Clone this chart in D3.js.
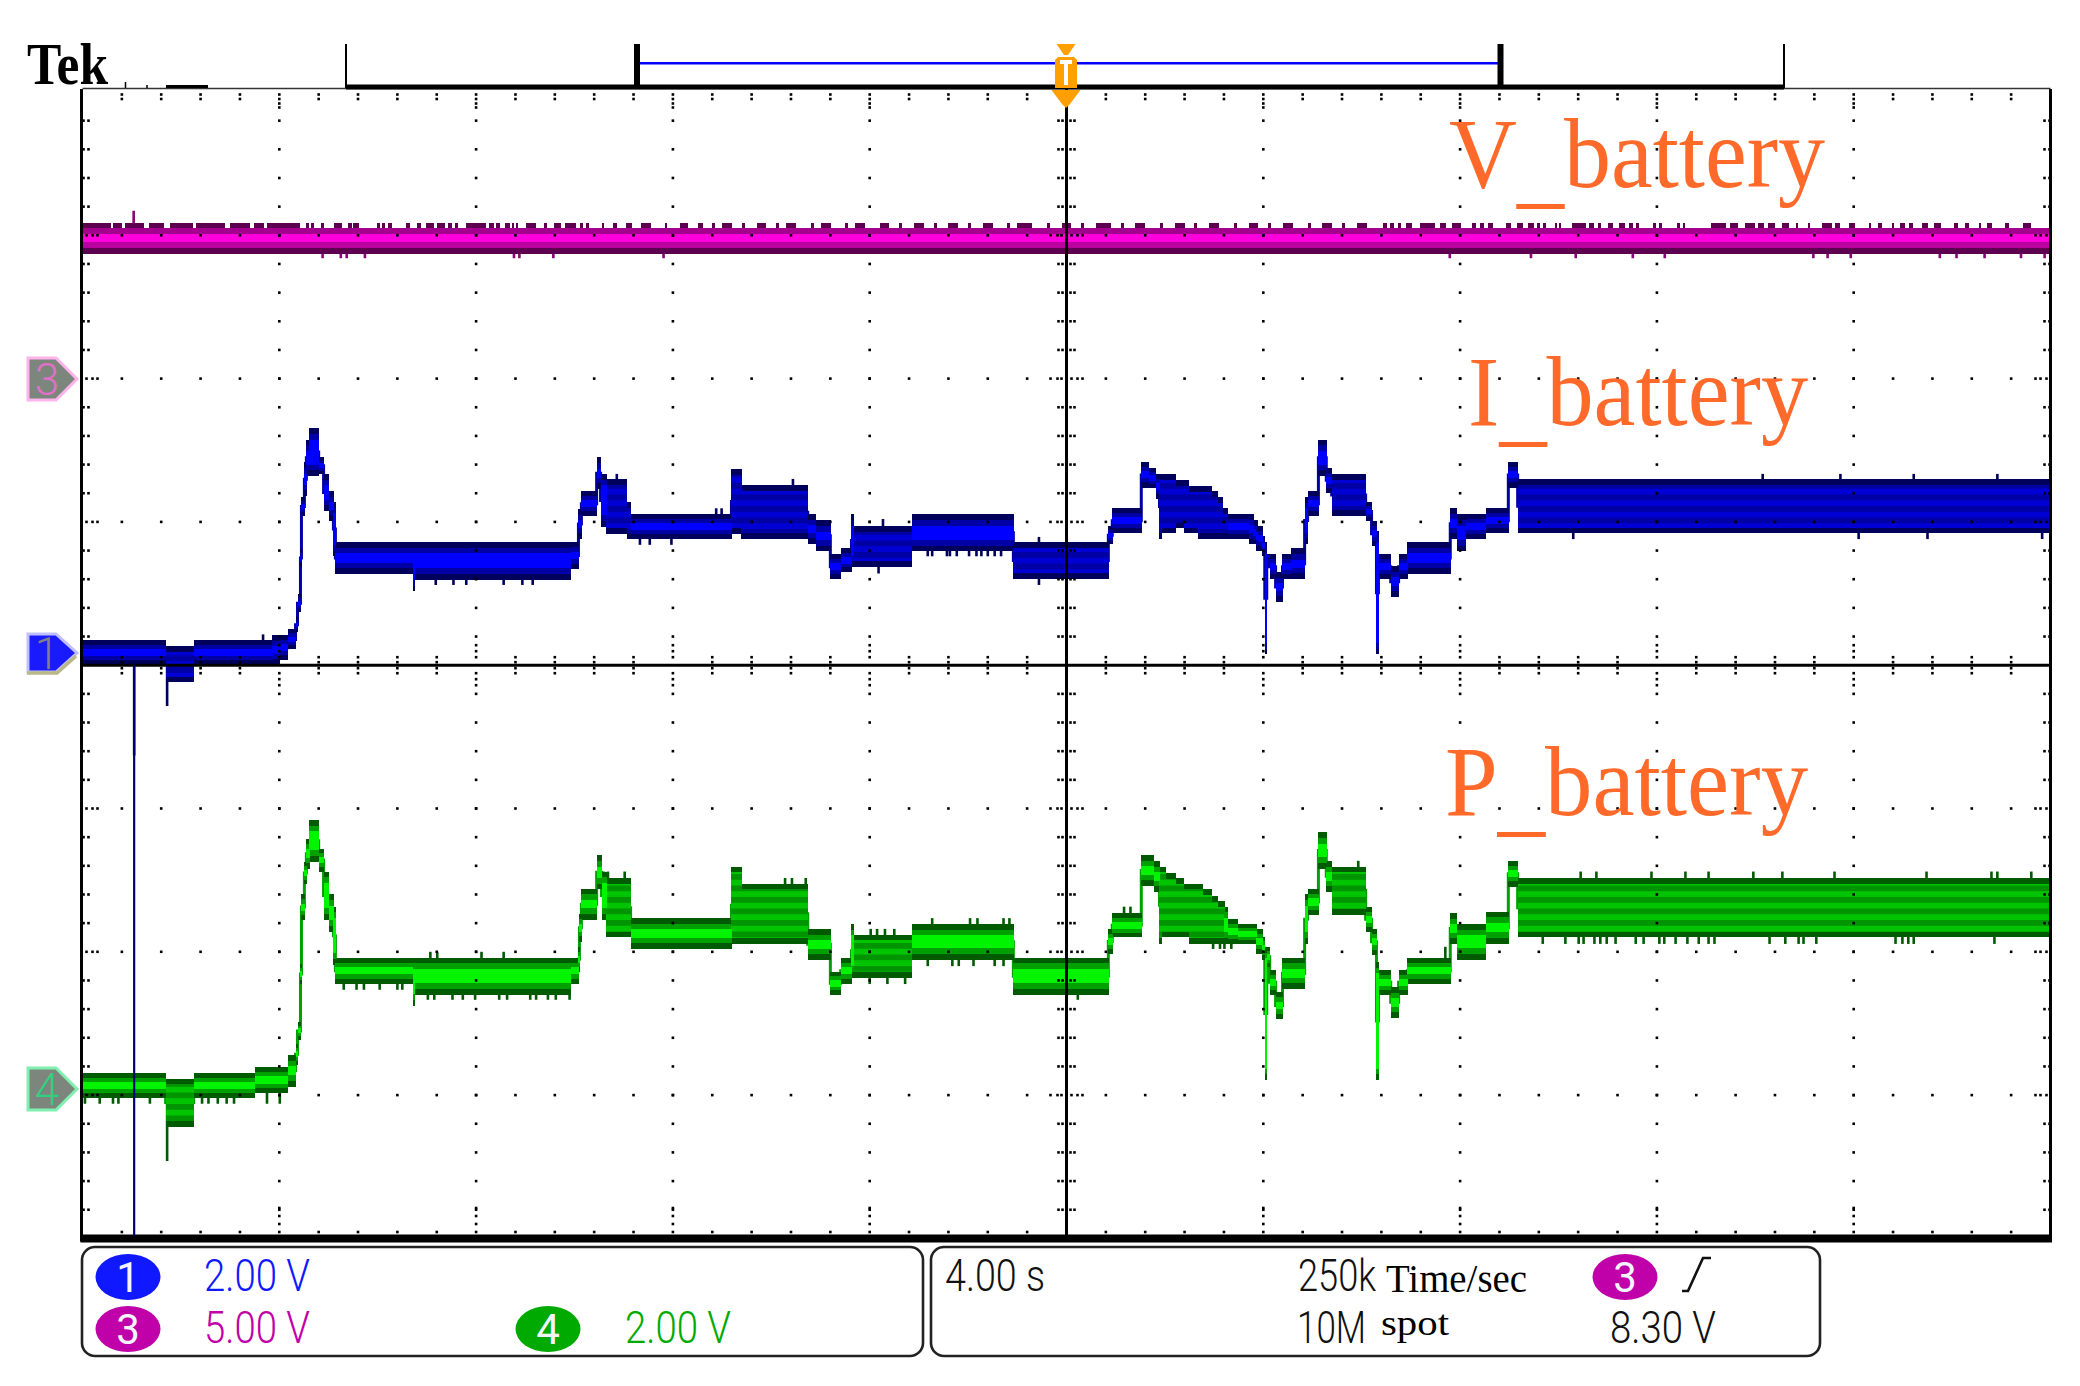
<!DOCTYPE html>
<html>
<head>
<meta charset="utf-8">
<script src="https://cdn.jsdelivr.net/npm/d3@7"></script>
<style>
html, body { margin: 0; padding: 0; background: #fff; }
svg { display: block; }
</style>
</head>
<body>
<div id="wrapper"></div>
<script>
// envelope rows: [time s, high V, low V, core] - core 1 = bright centre, 0 = striped
var ch1Rows = [
  [0,.21,-.13,1],[1.69,.13,-.38,0],[2.26,.21,-.13,1],[3.86,.28,-.13,1],[4.00,.28,-.07,1],[4.17,.36,.08,1],
  [4.33,.53,.32,1],[4.37,.85,.60,1],[4.43,1.48,1.23,1],[4.45,2.21,1.94,1],[4.51,2.69,2.22,1],[4.55,3.01,2.50,1],
  [4.61,3.17,2.50,1],[4.80,2.76,2.53,1],[4.90,2.53,2.01,1],[5.00,2.29,1.87,1],[5.10,2.14,1.38,1],[5.14,1.58,1.13,1],
  [6.71,1.58,.89,1],[6.76,1.58,1.05,1],[9.92,1.58,1.20,1],[10.08,2.04,1.62,1],[10.14,2.29,1.94,1],[10.45,2.76,2.32,1],
  [10.53,2.53,1.79,1],[10.65,2.46,1.69,0],[11.06,2.14,1.62,0],[11.14,1.97,1.62,1],[13.19,2.60,1.69,0],[13.39,2.37,1.62,0],
  [14.74,1.97,1.55,1],[14.90,1.88,1.45,1],[15.20,1.41,1.06,1],[15.41,1.49,1.16,1],[15.63,1.97,1.23,1],[15.67,1.80,1.23,0],
  [16.85,1.97,1.45,1],[18.92,1.58,1.06,0],[20.85,1.80,1.55,1],[20.93,2.05,1.70,1],[21.52,2.69,2.34,1],[21.67,2.61,2.34,1],
  [21.81,2.53,2.18,1],[21.89,2.53,1.62,0],[21.93,2.53,1.70,0],[22.21,2.44,1.77,0],[22.39,2.44,1.70,0],[22.48,2.36,1.70,0],
  [22.67,2.36,1.62,0],[22.94,2.29,1.62,0],[23.07,2.21,1.62,0],[23.17,2.05,1.62,0],[23.28,1.97,1.62,1],[23.71,1.97,1.55,1],
  [23.80,1.88,1.55,1],[23.85,1.88,1.45,1],[23.89,1.80,1.45,1],[23.98,1.66,1.38,1],[24.03,1.58,.01,1],[24.07,1.41,1.34,1],
  [24.13,1.41,1.06,1],[24.25,1.16,.74,1],[24.39,1.41,1.06,1],[24.57,1.49,1.06,1],[24.84,2.21,1.55,1],[24.90,2.29,1.94,1],
  [25.12,3.01,2.50,1],[25.28,2.61,2.27,1],[25.39,2.53,1.94,0],[26.08,2.14,1.87,1],[26.20,1.87,1.52,1],[26.30,1.73,.01,1],
  [26.34,1.41,1.06,1],[26.59,1.24,.81,1],[26.75,1.41,1.06,1],[26.93,1.58,1.13,1],[27.80,2.05,1.62,1],[27.93,1.97,1.45,1],
  [28.11,1.97,1.62,1],[28.52,2.05,1.70,1],[28.98,2.69,2.34,1],[29.17,2.46,1.70,0],[40,2.46,1.70,0]
];
var ch4Rows = [
  [0,.25,-.10,1],[1.69,.17,-.50,0],[2.26,.25,-.10,1],[3.50,.33,-.03,1],[4.17,.50,.06,1],[4.33,.66,.36,1],
  [4.37,.96,.71,1],[4.43,1.77,1.49,1],[4.45,2.74,2.39,1],[4.51,3.20,2.88,1],[4.55,3.52,3.10,1],[4.61,3.78,3.20,1],
  [4.80,3.38,3.06,1],[4.90,3.06,2.39,1],[5.00,2.74,2.22,1],[5.10,2.57,1.76,1],[5.14,1.86,1.49,1],[6.71,1.86,1.19,1],
  [6.76,1.86,1.34,1],[9.92,1.86,1.49,1],[10.08,2.01,1.66,1],[10.10,2.47,2.08,1],[10.14,2.82,2.39,1],[10.45,3.29,2.81,1],
  [10.55,3.06,2.39,1],[10.65,2.97,2.14,0],[11.14,2.41,1.98,1],[13.19,3.13,2.05,0],[13.39,2.89,2.05,0],[14.74,2.26,1.83,1],
  [15.20,1.66,1.34,1],[15.41,1.86,1.49,1],[15.63,2.33,1.58,1],[15.67,2.18,1.58,0],[16.85,2.33,1.83,1],[18.92,1.86,1.34,1],
  [20.85,2.26,1.91,1],[20.93,2.48,2.14,1],[21.52,3.29,2.86,1],[21.77,3.21,2.78,1],[21.89,3.13,2.05,0],[21.93,3.13,2.14,0],
  [22.01,3.04,2.14,0],[22.21,2.97,2.14,0],[22.39,2.89,2.14,0],[22.48,2.89,2.05,0],[22.76,2.81,2.05,0],[22.94,2.72,2.05,0],
  [23.07,2.65,2.05,0],[23.21,2.57,2.05,1],[23.28,2.40,2.05,1],[23.48,2.33,2.05,1],[23.86,2.26,1.91,1],[23.98,2.15,1.83,1],
  [24.03,2.01,.15,1],[24.07,2.01,1.73,1],[24.13,1.69,1.34,1],[24.25,1.38,1.00,1],[24.39,1.86,1.42,1],[24.84,2.74,2.05,1],
  [24.90,2.81,2.46,1],[25.12,3.61,3.10,1],[25.28,3.21,2.78,1],[25.39,3.13,2.46,0],[26.08,2.57,2.22,1],[26.20,2.26,1.90,1],
  [26.30,1.80,.15,1],[26.34,1.69,1.34,1],[26.59,1.45,1.02,1],[26.75,1.69,1.34,1],[26.93,1.86,1.49,1],[27.80,2.48,2.05,1],
  [27.93,2.33,1.83,1],[28.52,2.50,2.05,1],[28.98,3.21,2.85,1],[29.17,2.97,2.14,0],[40,2.97,2.14,0]
];
// ch3 is flat: level edges in V, top to bottom
var ch3Levels = [5.27, 5.06, 4.75, 4.57, 4.36];

// thin noise spikes: [time s, tip V]
var ch1Spikes = [
  [1.05,-1.4],[1.72,-.71],[3.67,.29],[7.18,.98],[7.54,.98],[7.80,.98],[8.56,.98],[8.94,.98],[9.15,.98],[10.86,2.53],
  [11.33,1.54],[11.53,1.54],[11.97,1.54],[12.88,2.05],[12.99,2.05],[14.44,2.46],[16.18,1.14],[16.27,1.90],[17.18,1.38],
  [17.27,1.38],[17.57,1.38],[17.63,1.38],[17.77,1.38],[18.02,1.38],[18.17,1.38],[18.27,1.38],[18.40,1.38],[18.54,1.38],
  [18.67,1.38],[19.44,.98],[19.44,1.65],[34.15,2.53],[35.73,2.53],[37.22,2.53],[38.92,2.53],[30.30,1.62],[36.10,1.62],
  [37.50,1.62],[39.83,1.62]
];
var ch4Spikes = [
  [1.72,-.98],[.05,-.18],[.35,-.18],[.62,-.18],[.73,-.18],[1.37,-.18],[2.43,-.18],[2.56,-.18],[2.75,-.18],[2.93,-.18],[3.08,-.18],
  [3.75,-.18],[4.01,-.18],[5.31,1.41],[5.57,1.41],[5.72,1.41],[6.04,1.41],[6.40,1.41],[6.50,1.41],[7.02,1.27],[7.15,1.27],
  [7.52,1.27],[7.73,1.27],[7.98,1.27],[8.47,1.27],[8.63,1.27],[9.10,1.27],[9.22,1.27],[9.46,1.27],[9.62,1.27],[9.90,1.27],
  [7.07,1.94],[7.21,1.94],[8.11,1.94],[8.56,1.94],[10.60,3.06],[10.68,3.06],[11.02,3.06],[14.28,2.97],[14.42,2.97],[14.70,2.97],
  [16.02,2.26],[16.15,2.26],[16.31,2.26],[16.50,2.26],[17.27,2.41],[18.04,2.41],[18.19,2.41],[18.72,2.41],[18.84,2.41],
  [21.17,2.57],[21.30,2.57],[25.93,3.21],[27.70,2.01],[16.00,1.49],[16.36,1.49],[16.72,1.49],[17.18,1.74],[17.68,1.74],
  [17.81,1.74],[18.11,1.74],[18.54,1.74],[18.72,1.74],[22.98,1.98],[23.12,1.98],[23.21,1.98],[23.35,1.98],[20.23,1.27],
  [30.45,3.06],[30.77,3.06],[31.89,3.06],[32.58,3.06],[33.05,3.06],[33.96,3.06],[34.55,3.06],[35.61,3.06],[37.48,3.06],
  [38.80,3.06],[38.92,3.06],[39.61,3.06],[29.68,2.05],[30.14,2.05],[30.41,2.05],[30.51,2.05],[30.73,2.05],[30.85,2.05],
  [30.98,2.05],[31.16,2.05],[31.57,2.05],[31.73,2.05],[32.05,2.05],[32.15,2.05],[32.38,2.05],[32.62,2.05],[32.85,2.05],
  [33.05,2.05],[33.17,2.05],[34.29,2.05],[34.61,2.05],[34.88,2.05],[34.98,2.05],[35.24,2.05],[36.85,2.05],[36.99,2.05],
  [37.11,2.05],[37.22,2.05],[38.86,2.05]
];
var ch3Spikes = [
  [1.04,5.86],[4.88,4.2],[5.25,4.2],[5.37,4.2],[5.74,4.2],[8.77,4.2],[8.88,4.2],[9.57,4.2],[11.81,4.2],[27.79,4.2],[29.44,4.2],
  [30.35,4.2],[31.51,4.2],[32.16,4.2],[35.18,4.2],[35.47,4.2],[35.94,4.2],[37.75,4.2],[38.09,4.2],[38.66,4.2],[39.40,4.2],[39.88,4.2]
];
// dark noise blocks on top of the ch3 band: [from s, to s]
var ch3Blocks = [
  [0,.58],[.62,.80],[.87,1.24],[1.35,1.66],[1.78,2.24],[2.31,2.89],[3.00,3.41],[3.48,3.69],[3.75,4.43],[4.54,4.60],[4.64,4.70],
  [4.85,4.91],[5.12,5.28],[5.39,5.48],[5.50,5.61],[5.98,6.04],[6.09,6.15],[6.21,6.30],[6.57,6.66],[6.79,6.88],[6.99,7.15],
  [7.21,7.37],[7.43,7.50],[7.57,7.64],[7.79,8.21],[8.27,8.36],[8.40,8.48],[8.59,8.68],[8.72,8.77],[8.81,8.86],[9.02,9.22],
  [9.38,9.45],[9.58,9.72],[9.81,10.03],[10.11,10.17],[10.24,10.30],[10.56,10.60],[10.78,10.87],[11.04,11.17],[11.36,11.56],
  [11.84,11.88],[12.15,12.30],[12.50,12.62],[12.80,12.86],[13.00,13.20],[13.40,13.46],[13.70,13.90],[14.10,14.16],[14.30,14.50],
  [14.80,14.86],[15.00,15.22],[15.50,15.56],[15.70,15.90],[16.20,16.40],[16.60,16.66],[16.90,17.10],[17.30,17.36],[17.60,17.80],
  [18.00,18.06],[18.30,18.50],[18.80,18.86],[19.00,19.30],[19.60,19.66],[19.90,20.10],[20.30,20.36],[20.60,20.90],[21.10,21.16],
  [21.40,21.60],[21.90,21.96],[22.20,22.40],[22.60,22.66],[22.90,23.10],[23.40,23.46],[23.70,23.90],[24.10,24.16],[24.40,24.60],
  [24.90,24.96],[25.20,25.40],[25.60,25.66],[25.90,26.10],[26.43,26.52],[26.58,26.65],[26.73,26.79],[26.91,27.02],[27.18,27.49],
  [27.60,27.72],[27.83,28.01],[28.24,28.33],[28.40,28.49],[28.56,28.67],[28.94,29.03],[29.15,29.27],[29.37,29.51],[29.57,29.63],
  [29.69,29.74],[29.92,29.97],[30.01,30.06],[30.28,30.55],[30.63,30.72],[30.81,30.87],[31.01,31.10],[31.23,31.35],[31.44,31.51],
  [31.57,31.64],[31.93,31.98],[32.05,32.10],[32.41,32.46],[32.53,32.57],[33.10,33.41],[33.48,33.64],[33.80,34.00],[34.05,34.18],
  [34.26,34.41],[34.55,34.69],[34.82,34.87],[35.07,35.11],[35.35,35.55],[35.62,35.73],[35.91,36.02],[36.32,36.36],[36.50,36.57],
  [36.77,36.82],[36.95,37.04],[37.13,37.20],[37.38,37.52],[37.63,37.77],[38.04,38.13],[38.27,38.34],[38.54,38.59],[38.70,38.81],
  [39.08,39.16],[39.45,39.61]
];

var cursorTime = 1.05;
var triggerTime = 20;
var ch1Scale = 2, ch3Scale = 5, ch4Scale = 2;   // V per division
var ch1Ref = 3.93, ch3Ref = 2.00, ch4Ref = 6.97; // ground marker, in divisions from the top
var traceLabels = ["V", "I", "P"];
var scaleLabels = ["2.00 V", "5.00 V", "2.00 V"];
var timeLabels = ["4.00 s", "250k", "10M", "Time/sec", "spot", "8.30 V"];

var width = 2080, height = 1386;
var svg = d3.select('#wrapper').append('svg').attr('width', width).attr('height', height);

// 10 divisions of 4 s across, 8 divisions down
var x = d3.scaleLinear().domain([0, 40]).range([82.5, 2050.5]);
var div = d3.scaleLinear().domain([0, 8]).range([92, 1238.4]);
var top0 = div(0) - 3, bottom0 = div(8);

function yFor(ref, perDiv) {
  return function(v) { return div(ref - v / perDiv); };
}

var defs = svg.append('defs');
defs.append('clipPath').attr('id', 'plot').append('rect')
    .attr('x', x(0)).attr('y', top0).attr('width', x(40) - x(0)).attr('height', bottom0 - top0);

function stripes(id, a, b) {
  var p = defs.append('pattern').attr('id', id).attr('patternUnits', 'userSpaceOnUse')
      .attr('width', 8).attr('height', 11.5);
  p.append('rect').attr('width', 8).attr('height', 5.75).attr('fill', a);
  p.append('rect').attr('y', 5.75).attr('width', 8).attr('height', 5.75).attr('fill', b);
}
stripes('stripe1', '#0000a4', '#0000d4');
stripes('stripe4', '#009400', '#00c400');

var traces = svg.append('g').attr('clip-path', 'url(#plot)');

function drawSpikes(g, spikes, y, from, colour) {
  g.selectAll(null).data(spikes).enter().append('line')
      .attr('x1', function(d) { return x(d[0]); })
      .attr('x2', function(d) { return x(d[0]); })
      .attr('y1', function(d) { return y(d[1]); })
      .attr('y2', from)
      .attr('stroke', colour).attr('stroke-width', 2.6);
}

function drawTrace(rows, spikes, y, col) {
  var g = traces.append('g');
  var spans = rows.slice(0, -1).map(function(d, i) {
    return {t0: d[0], t1: rows[i + 1][0], hi: y(d[1]), lo: y(d[2]), core: d[3]};
  });
  // run each spike into the band it starts from
  drawSpikes(g, spikes, y, function(d) {
    var s = spans.find(function(o) { return d[0] >= o.t0 && d[0] < o.t1; });
    return (s.hi + s.lo) / 2;
  }, col.dark);

  // the beam itself joins one step to the next
  var beam = d3.line()
      .x(function(d) { return x(d[0]); })
      .y(function(d) { return y((d[1] + d[2]) / 2); })
      .curve(d3.curveStepAfter);
  g.append('path').attr('d', beam(rows)).attr('fill', 'none')
      .attr('stroke', col.mid).attr('stroke-width', 3);

  function layer(data, fill, inset) {
    g.selectAll(null).data(data).enter().append('rect')
        .attr('shape-rendering', 'crispEdges')
        .attr('x', function(d) { return x(d.t0); })
        .attr('width', function(d) { return x(d.t1) - x(d.t0) + 0.4; })
        .attr('y', function(d) { return d.hi + inset(d); })
        .attr('height', function(d) { return Math.max(0, d.lo - d.hi - 2 * inset(d)); })
        .attr('fill', fill);
  }
  layer(spans, col.dark, function() { return 0; });
  layer(spans, function(d) { return d.core ? col.mid : col.pattern; },
        function(d) { return Math.min(5.75, (d.lo - d.hi) * 0.2); });
  layer(spans.filter(function(d) { return d.core; }), col.bright,
        function(d) { return Math.min(11.5, (d.lo - d.hi) * 0.36); });
}

var yCh1 = yFor(ch1Ref, ch1Scale), yCh3 = yFor(ch3Ref, ch3Scale), yCh4 = yFor(ch4Ref, ch4Scale);

// ch3 flat band with its row colours
var ch3 = traces.append('g');
var ch3Colours = ['#a4008e', '#ff00dc', '#b800a0', '#5e0050'];
drawSpikes(ch3, ch3Spikes, yCh3, yCh3(5), '#8c0078');
ch3.selectAll('.level').data(ch3Colours).enter().append('rect')
    .attr('shape-rendering', 'crispEdges')
    .attr('x', x(0)).attr('width', x(40) - x(0))
    .attr('y', function(d, i) { return yCh3(ch3Levels[i]); })
    .attr('height', function(d, i) { return yCh3(ch3Levels[i + 1]) - yCh3(ch3Levels[i]); })
    .attr('fill', function(d) { return d; });
ch3.selectAll('.block').data(ch3Blocks).enter().append('rect')
    .attr('shape-rendering', 'crispEdges')
    .attr('x', function(d) { return x(d[0]); })
    .attr('width', function(d) { return x(d[1]) - x(d[0]); })
    .attr('y', yCh3(5.44))
    .attr('height', yCh3(5.27) - yCh3(5.44))
    .attr('fill', '#5e0050');

drawTrace(ch1Rows, ch1Spikes, yCh1, {dark: '#00005c', mid: '#0000a4', bright: '#0000ff', pattern: 'url(#stripe1)'});
drawTrace(ch4Rows, ch4Spikes, yCh4, {dark: '#005a00', mid: '#00a000', bright: '#00f400', pattern: 'url(#stripe4)'});

// graticule dots sit on top of the traces
var grat = svg.append('g').attr('fill', '#000');
function dot(px, py) {
  grat.append('rect').attr('x', px - 1.3).attr('y', py - 1.3).attr('width', 2.6).attr('height', 2.6);
}
var minorX = d3.range(0, 50.5).map(function(i) { return i * 0.8; });
var minorY = d3.range(0, 40.5).map(function(i) { return i * 0.2; });

minorX.forEach(function(t) {
  var px = x(t), major = Math.round(t * 10) % 40 === 0;
  if (t === 0 || t === 40) return;
  // rulers along the top, bottom and centre
  (major ? [94.5, 99, 103.5, 107.5] : [94.5, 99]).forEach(function(py) { dot(px, py); });
  (major ? [1208, 1216, 1224, 1232] : [1232]).forEach(function(py) { dot(px, py); });
  var c = div(4);
  (major ? [-20, -14, -8, 8, 14, 20] : [-8, -3, 8, 3]).forEach(function(o) { dot(px, c + o); });
  // major rows
  [1, 2, 3, 5, 6, 7].forEach(function(i) { dot(px, div(i)); });
});
minorY.forEach(function(v) {
  var py = div(v), major = Math.round(v * 10) % 10 === 0;
  if (v === 0 || v === 8 || v === 4) return;
  [1, 2, 3, 4, 6, 7, 8, 9].forEach(function(i) { dot(x(i * 4), py); });
  (major ? [x(0) + 4, x(0) + 10, x(0) + 15] : [x(0) + 1, x(0) + 6]).forEach(function(px) { dot(px, py); });
  (major ? [x(40) - 4, x(40) - 10, x(40) - 15] : [x(40) - 1, x(40) - 6]).forEach(function(px) { dot(px, py); });
  var c = x(20);
  (major ? [-16, -9, -5, 5, 11, 16] : [-8, -4, 4, 8]).forEach(function(o) { dot(c + o, py); });
});

// frame and centre lines
var frame = svg.append('g').attr('stroke', '#000');
frame.append('line').attr('x1', x(0)).attr('x2', x(40)).attr('y1', div(4)).attr('y2', div(4)).attr('stroke-width', 3);
frame.append('line').attr('x1', x(20)).attr('x2', x(20)).attr('y1', top0).attr('y2', bottom0).attr('stroke-width', 3);
frame.append('line').attr('x1', x(0) - 1).attr('x2', x(0) - 1).attr('y1', top0).attr('y2', bottom0 + 3).attr('stroke-width', 3);
frame.append('line').attr('x1', x(40)).attr('x2', x(40)).attr('y1', top0).attr('y2', bottom0 + 3).attr('stroke-width', 3);
frame.append('line').attr('x1', x(0)).attr('x2', x(40)).attr('y1', 88.5).attr('y2', 88.5).attr('stroke-width', 1.6).attr('stroke', '#333');
frame.append('line').attr('x1', x(0) - 2).attr('x2', x(40) + 1.5).attr('y1', bottom0).attr('y2', bottom0).attr('stroke-width', 8);

// cursor
svg.append('line').attr('x1', x(cursorTime)).attr('x2', x(cursorTime))
    .attr('y1', div(4)).attr('y2', bottom0 - 3)
    .attr('stroke', '#000070').attr('stroke-width', 2.2);

// record view bar above the plot
var bar = svg.append('g').attr('stroke', '#000');
bar.append('line').attr('x1', 346).attr('x2', 1784).attr('y1', 87).attr('y2', 87).attr('stroke-width', 5);
bar.append('line').attr('x1', 346).attr('x2', 346).attr('y1', 44).attr('y2', 88).attr('stroke-width', 2);
bar.append('line').attr('x1', 1784).attr('x2', 1784).attr('y1', 44).attr('y2', 88).attr('stroke-width', 2);
bar.append('line').attr('x1', 166).attr('x2', 208).attr('y1', 86.5).attr('y2', 86.5).attr('stroke-width', 3);
bar.append('line').attr('x1', 125.5).attr('x2', 125.5).attr('y1', 82).attr('y2', 88).attr('stroke-width', 1.5);
bar.append('line').attr('x1', 147).attr('x2', 147).attr('y1', 85).attr('y2', 88).attr('stroke-width', 1.5);
bar.append('line').attr('x1', 638).attr('x2', 1500).attr('y1', 63.3).attr('y2', 63.3).attr('stroke', '#0000ff').attr('stroke-width', 2.6);
bar.append('line').attr('x1', 637).attr('x2', 637).attr('y1', 44).attr('y2', 88).attr('stroke-width', 6);
bar.append('line').attr('x1', 1500.5).attr('x2', 1500.5).attr('y1', 44).attr('y2', 88).attr('stroke-width', 6);

// trigger position marker
var tx = x(triggerTime) - 0.5;
var trig = svg.append('g').attr('fill', '#ff9f00');
trig.append('path').attr('d', d3.line()([[tx - 9.5, 44], [tx + 9.5, 44], [tx + 2, 55], [tx - 2, 55]]) + 'Z');
trig.append('path').attr('d', d3.line()([[tx - 8, 57], [tx + 8, 57], [tx + 11, 60], [tx + 11, 88], [tx - 11, 88], [tx - 11, 60]]) + 'Z');
trig.append('path').attr('d', d3.line()([[tx - 14.5, 90], [tx + 14.5, 90], [tx + 4, 104], [tx, 108], [tx - 4, 104]]) + 'Z');
trig.append('path').attr('d', 'M' + (tx - 6) + ',60H' + (tx + 6) + 'V64H' + (tx + 2) + 'V85H' + (tx - 2) + 'V64H' + (tx - 6) + 'Z').attr('fill', '#fff');

// channel markers on the left edge
function marker(y0, y1, fill, edge, txt, txtCol, shadow) {
  var m = (y0 + y1) / 2;
  var g = svg.append('g');
  var pts = [[28, y0], [56, y0], [77, m], [56, y1], [28, y1]];
  g.append('path').attr('d', d3.line()(pts) + 'Z').attr('fill', fill).attr('stroke', edge).attr('stroke-width', 3);
  if (shadow) g.append('path').attr('d', 'M27,' + (y1 + 1) + 'H57L76,' + (m + 3)).attr('fill', 'none').attr('stroke', shadow).attr('stroke-width', 3.5);
  g.append('text').attr('x', 47).attr('y', m + 16).attr('text-anchor', 'middle')
      .attr('font-family', 'Roboto, sans-serif').attr('font-weight', 300).attr('font-size', 44)
      .attr('fill', txtCol).text(txt);
}
marker(358, 400, '#7c867c', '#ffb4ec', '3', '#e070c8');
marker(634, 672, '#1a1aff', '#c0c0ff', '1', '#80808c', '#b8b888');
marker(1068, 1110, '#7c867c', '#80f0b0', '4', '#30d080');

// big serif labels, the underscore sits lower than the font puts it
var labelPos = [[1449, 187, 376], [1468, 425, 340], [1445, 815, 363]];
var labels = svg.selectAll('.tlabel').data(traceLabels).enter().append('text')
    .attr('x', function(d, i) { return labelPos[i][0]; })
    .attr('y', function(d, i) { return labelPos[i][1]; })
    .attr('textLength', function(d, i) { return labelPos[i][2]; })
    .attr('lengthAdjust', 'spacingAndGlyphs')
    .attr('font-family', '"Liberation Serif", serif').attr('font-size', 100)
    .attr('fill', '#ff6a2a');
labels.append('tspan').text(function(d) { return d; });
labels.append('tspan').attr('dy', 9).text('_');
labels.append('tspan').attr('dy', -9).text('battery');

svg.append('text').attr('x', 27).attr('y', 84).attr('textLength', 81).attr('lengthAdjust', 'spacingAndGlyphs')
    .attr('font-family', '"Liberation Serif", serif').attr('font-weight', 700).attr('font-size', 60).text('Tek');

// readout boxes
var boxes = svg.append('g').attr('fill', 'none').attr('stroke', '#222').attr('stroke-width', 2.6);
boxes.append('rect').attr('x', 82).attr('y', 1247).attr('width', 841).attr('height', 109).attr('rx', 13);
boxes.append('rect').attr('x', 931).attr('y', 1247).attr('width', 889).attr('height', 109).attr('rx', 13);

function badge(cx, cy, fill, txt) {
  svg.append('ellipse').attr('cx', cx).attr('cy', cy).attr('rx', 32.5).attr('ry', 23).attr('fill', fill);
  svg.append('text').attr('x', cx).attr('y', cy + 15).attr('text-anchor', 'middle')
      .attr('font-family', 'Roboto, sans-serif').attr('font-weight', 400).attr('font-size', 42)
      .attr('fill', '#f4f4ff').text(txt);
}
badge(128, 1277, '#1018ff', '1');
badge(128, 1329, '#c000a8', '3');
badge(548, 1329, '#00aa00', '4');
badge(1625, 1277, '#c000a8', '3');

function readout(txt, px, py, w, fill) {
  svg.append('text').attr('x', px).attr('y', py).attr('textLength', w).attr('lengthAdjust', 'spacingAndGlyphs')
      .attr('font-family', 'Roboto, sans-serif').attr('font-weight', 300).attr('font-size', 44)
      .attr('fill', fill).text(txt);
}
readout(scaleLabels[0], 204, 1291, 106, '#1018ff');
readout(scaleLabels[1], 204, 1343, 106, '#c000a8');
readout(scaleLabels[2], 625, 1343, 106, '#00aa00');
readout(timeLabels[0], 945, 1291, 100, '#111');
readout(timeLabels[1], 1298, 1291, 78, '#111');
readout(timeLabels[2], 1297, 1343, 69, '#111');
readout(timeLabels[5], 1610, 1343, 106, '#111');

function serif(txt, px, py, w, size) {
  svg.append('text').attr('x', px).attr('y', py).attr('textLength', w).attr('lengthAdjust', 'spacingAndGlyphs')
      .attr('font-family', '"Liberation Serif", serif').attr('font-size', size).attr('fill', '#000').text(txt);
}
serif(timeLabels[3], 1386, 1292, 141, 40);
serif(timeLabels[4], 1381, 1335, 68, 36);

// rising edge symbol
svg.append('path').attr('d', 'M1682,1291H1688L1703,1258H1711').attr('fill', 'none').attr('stroke', '#111').attr('stroke-width', 2.6);
</script>
</body>
</html>
